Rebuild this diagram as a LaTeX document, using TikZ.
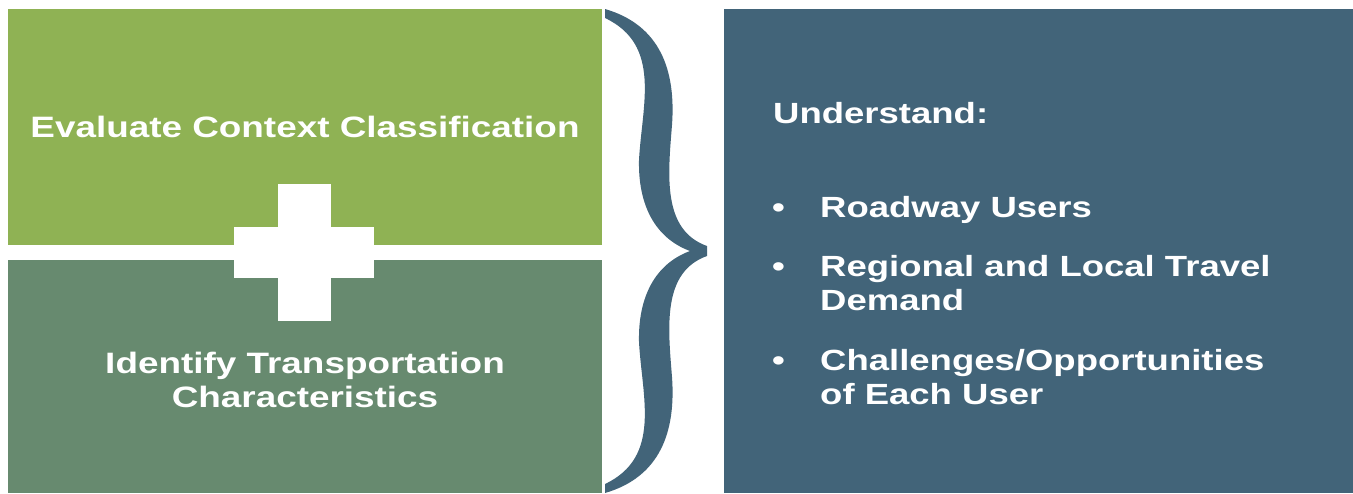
\documentclass[tikz,border=0pt]{standalone}
\usepackage{fontspec}
\usepackage{tikz}
\usetikzlibrary{calc}
\newfontfamily\slidefont[FakeStretch=1.25]{Liberation Sans}
\definecolor{ctxgreen}{HTML}{8FB254}
\definecolor{trgreen}{HTML}{678A6F}
\definecolor{userblue}{HTML}{426479}
\newcommand{\leftfont}{\slidefont\bfseries\fontsize{29.5}{34}\selectfont}
\newcommand{\rightfont}{\slidefont\bfseries\fontsize{29.2}{34}\selectfont}

\begin{document}
\begin{tikzpicture}[x=1pt, y=-1pt,
  panel/.style={anchor=north west, inner sep=0pt, outer sep=0pt, text=white, align=center},
  plusbar/.style={fill=white, draw=none, inner sep=0pt, outer sep=0pt},
  itemtext/.style={anchor=base west, inner sep=0pt, text=white, align=left, font=\rightfont}]
  \useasboundingbox (0,0) rectangle (1353,493);
  \node[panel, fill=ctxgreen, minimum width=594pt, minimum height=236pt, font=\leftfont]
    (context) at (8,9) {Evaluate Context Classification};
  \node[panel, fill=trgreen, minimum width=594pt, minimum height=233pt]
    (transport) at (8,260) {};
  \node[text=white, align=center, font=\leftfont, anchor=base]
    (transporttext) at ($(transport.center)+(0,30.5)$) {Identify Transportation\\Characteristics};
  \node[panel, fill=userblue, minimum width=629pt, minimum height=484pt]
    (users) at (724,9) {};
  % plus sign
  \node[plusbar, minimum width=140pt, minimum height=51pt] (plush) at (304,252.5) {};
  \node[plusbar, minimum width=53pt, minimum height=137pt] (plusv) at (304.5,252.5) {};
  % brace, upper half then mirrored half
  \foreach \s/\d in {1/0, -1/502} {
    \begin{scope}[shift={(0,\d)}, yscale=\s]
      \fill[userblue] (605,9) .. controls (660,25) and (676,70) .. (672,125)
        .. controls (668,175) and (662,230) .. (707,246) -- (707,251) -- (690,251)
        .. controls (655,238) and (638,205) .. (639,160)
        .. controls (642,105) and (662,45) .. (605,18) -- cycle;
    \end{scope}
  }
  % text on the right
  \node[itemtext] (understand) at (773,123) {Understand:};
  \node[itemtext] (bulleta) at (772,217) {\textbullet};
  \node[itemtext] (roadway) at (820,217) {Roadway Users};
  \node[itemtext] (bulletb) at (772,276) {\textbullet};
  \node[itemtext] (travel) at (820,310) {Regional and Local Travel\\Demand};
  \node[itemtext] (bulletc) at (772,370) {\textbullet};
  \node[itemtext] (challenge) at (820,404) {Challenges/Opportunities\\of Each User};
\end{tikzpicture}
\end{document}
